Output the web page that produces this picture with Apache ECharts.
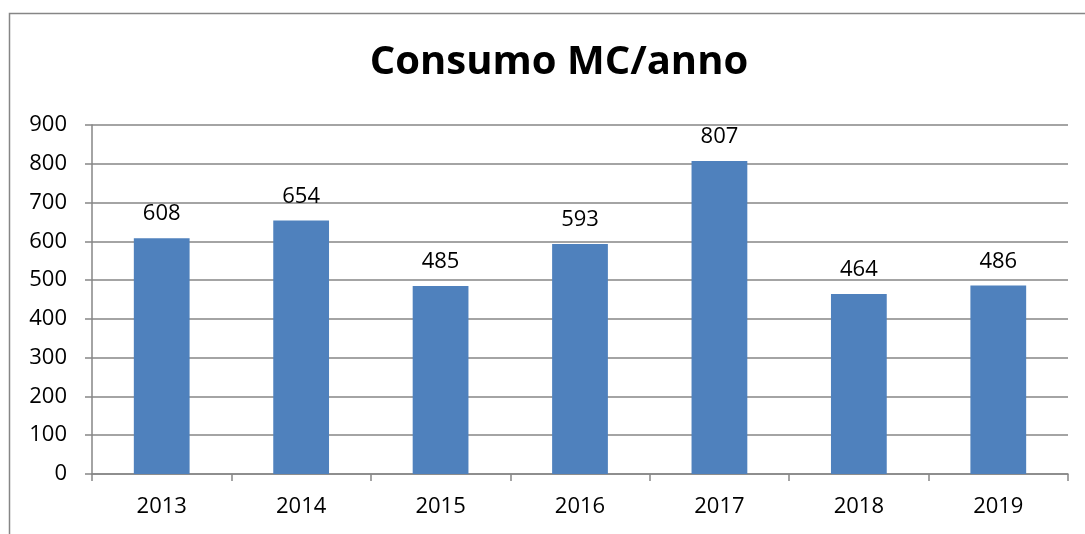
<!DOCTYPE html>
<html>
<head>
<meta charset="utf-8">
<script src="https://cdn.jsdelivr.net/npm/echarts@6/dist/echarts.min.js"></script>
<style>
  html, body { margin: 0; padding: 0; background: #fff; }
  #main { width: 1085px; height: 534px; }
</style>
</head>
<body>
<div id="main"></div>
<script>
var myChart = echarts.init(document.getElementById('main'));

// dati
var anni = ['2013', '2014', '2015', '2016', '2017', '2018', '2019'];
var consumi = [608, 654, 485, 593, 807, 464, 486];

var grigio = '#868686';
var font = '"Open Sans", "Liberation Sans", sans-serif';

option = {
    backgroundColor: '#fff',
    animation: false,
    title: {
        text: 'Consumo MC/anno',
        left: 554,
        textAlign: 'center',
        top: 38,
        textStyle: {
            fontFamily: font,
            fontSize: 40,
            fontWeight: 'bold',
            color: '#000'
        }
    },
    graphic: [{
        type: 'rect',
        shape: { x: 9.5, y: 13.5, width: 1200, height: 700 },
        style: { fill: 'none', stroke: grigio, lineWidth: 1.5 },
        silent: true
    }],
    grid: {
        left: 92,
        right: 17,
        top: 125,
        bottom: 60
    },
    xAxis: {
        type: 'category',
        data: anni,
        axisLine: { lineStyle: { color: grigio, width: 1.5 } },
        axisTick: { show: true, length: 7, lineStyle: { color: grigio, width: 1.5 } },
        axisLabel: {
            margin: 22,
            color: '#000',
            fontSize: 22,
            fontFamily: font
        }
    },
    yAxis: {
        type: 'value',
        min: 0,
        max: 900,
        interval: 100,
        axisLine: { show: true, lineStyle: { color: grigio, width: 1.5 } },
        axisTick: { show: true, length: 7, lineStyle: { color: grigio, width: 1.5 } },
        splitLine: { lineStyle: { color: grigio, width: 1.5 } },
        axisLabel: {
            margin: 25,
            color: '#000',
            fontSize: 22,
            fontFamily: font
        }
    },
    series: [{
        type: 'bar',
        data: consumi,
        barWidth: '40%',
        itemStyle: { color: '#4F81BD' },
        label: {
            show: true,
            position: 'top',
            distance: 13,
            color: '#000',
            fontSize: 22,
            fontFamily: font
        }
    }]
};

myChart.setOption(option);
</script>
</body>
</html>
